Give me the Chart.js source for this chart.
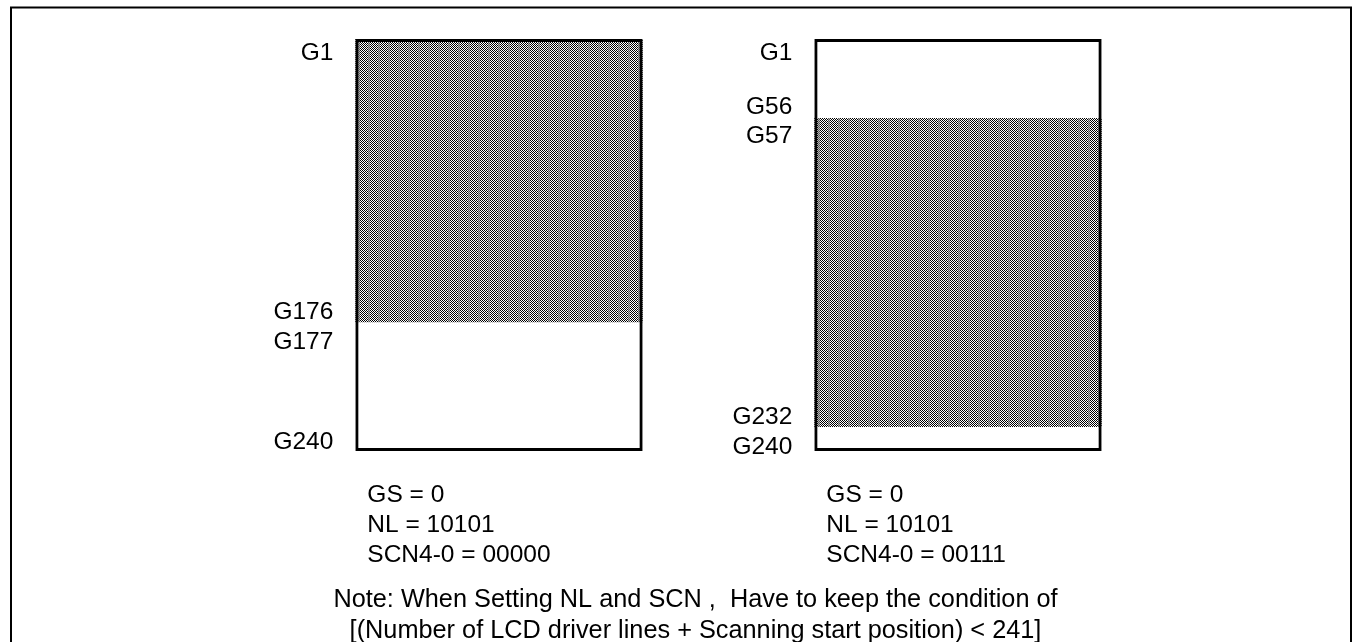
<!DOCTYPE html>
<html>
<head>
<meta charset="utf-8">
<script src="https://cdn.jsdelivr.net/npm/chart.js@4"></script>
<style>
  html, body { margin: 0; padding: 0; background: #ffffff; }
  #wrap { position: relative; width: 1352px; height: 642px; }
</style>
</head>
<body>
<div id="wrap"><canvas id="c" width="1352" height="642"></canvas></div>
<script>
// ---- data (diagram position units: 0 = top of panel, 240 = bottom of panel) ----
const categories = ['SCN4-0 = 00000', 'SCN4-0 = 00111'];
const panelRange = [[0, 240], [0, 240]];          // full LCD panel outline
const shadedRange = [[0, 165], [46, 226]];        // scanned (display) area, as drawn
const leftGateLabels = ['G1', 'G176', 'G177', 'G240'];
const leftGatePos = [7, 158, 175.5, 233.5];
const rightGateLabels = ['G1', 'G56', 'G57', 'G232', 'G240'];
const rightGatePos = [7, 38.5, 55.5, 219, 236.5];
const leftSettings = ['GS = 0', 'NL = 10101', 'SCN4-0 = 00000'];
const rightSettings = ['GS = 0', 'NL = 10101', 'SCN4-0 = 00111'];
const noteLines = [
  'Note: When Setting NL and SCN ,  Have to keep the condition of',
  '[(Number of LCD driver lines + Scanning start position) < 241]'
];

const FONT = '24.5px "Liberation Sans", Arial, sans-serif';
const NOTE_FONT = '25.3px "Liberation Sans", Arial, sans-serif';

function makePattern(ctx) {
  const t = document.createElement('canvas');
  t.width = 10; t.height = 2;
  const g = t.getContext('2d');
  for (let x = 0; x < 10; x++) {
    for (let y = 0; y < 2; y++) {
      let col;
      if (x < 8) col = ((x + y) % 2 === 0) ? '#000000' : '#ffffff';
      else col = ((x + y) % 2 === 0) ? '#5a5a5a' : '#b4b4b4';
      g.fillStyle = col;
      g.fillRect(x, y, 1, 1);
    }
  }
  return ctx.createPattern(t, 'repeat');
}

const canvas = document.getElementById('c');
const ctx0 = canvas.getContext('2d');
const pattern = makePattern(ctx0);

const textPlugin = {
  id: 'diagramText',
  afterDatasetsDraw(chart) {
    const ctx = chart.ctx;
    const ys = chart.scales.y;
    const meta = chart.getDatasetMeta(0);
    const ca = chart.chartArea;
    ctx.save();
    // outer frame
    ctx.strokeStyle = '#000';
    ctx.lineWidth = 2;
    ctx.beginPath();
    ctx.moveTo(11, 660);
    ctx.lineTo(11, 7.5);
    ctx.lineTo(1351, 7.5);
    ctx.lineTo(1351, 660);
    ctx.stroke();

    ctx.fillStyle = '#000';
    ctx.font = FONT;
    const capOff = 8.7;
    const gap = 22;
    const groups = [[leftGateLabels, leftGatePos], [rightGateLabels, rightGatePos]];
    groups.forEach((grp, i) => {
      const bar = meta.data[i];
      const leftEdge = bar.x - bar.width / 2;
      ctx.textAlign = 'right';
      ctx.textBaseline = 'alphabetic';
      grp[0].forEach((lab, j) => {
        ctx.fillText(lab, leftEdge - gap, ys.getPixelForValue(grp[1][j]) + capOff);
      });
    });
    // settings text under each panel
    [leftSettings, rightSettings].forEach((lines, i) => {
      const bar = meta.data[i];
      const leftEdge = bar.x - bar.width / 2;
      ctx.textAlign = 'left';
      lines.forEach((ln, j) => {
        ctx.fillText(ln, leftEdge + 12, ca.bottom + 42 + capOff + j * 30);
      });
    });
    // note
    ctx.font = NOTE_FONT;
    ctx.textAlign = 'center';
    const cx = (meta.data[0].x + meta.data[1].x) / 2 - 33;
    noteLines.forEach((ln, j) => {
      ctx.fillText(ln, cx, ca.bottom + 147 + 9 + j * 31);
    });
    ctx.restore();
  }
};

new Chart(canvas, {
  type: 'bar',
  data: {
    labels: categories,
    datasets: [
      {
        label: 'panel',
        data: panelRange,
        backgroundColor: 'rgba(0,0,0,0)',
        borderColor: '#000000',
        borderWidth: 3,
        borderSkipped: false,
        grouped: false,
        categoryPercentage: 1,
        barPercentage: 0.626
      },
      {
        label: 'scan area',
        data: shadedRange,
        backgroundColor: pattern,
        borderWidth: 0,
        borderSkipped: false,
        grouped: false,
        categoryPercentage: 1,
        barPercentage: 0.626
      }
    ]
  },
  options: {
    responsive: false,
    animation: false,
    events: [],
    layout: { padding: { left: 269.5, right: 164.5, top: 39, bottom: 191 } },
    plugins: { legend: { display: false }, tooltip: { enabled: false } },
    scales: {
      x: { display: false, offset: true, grid: { display: false } },
      y: { display: false, reverse: true, min: 0, max: 240, grid: { display: false } }
    }
  },
  plugins: [textPlugin]
});
</script>
</body>
</html>
